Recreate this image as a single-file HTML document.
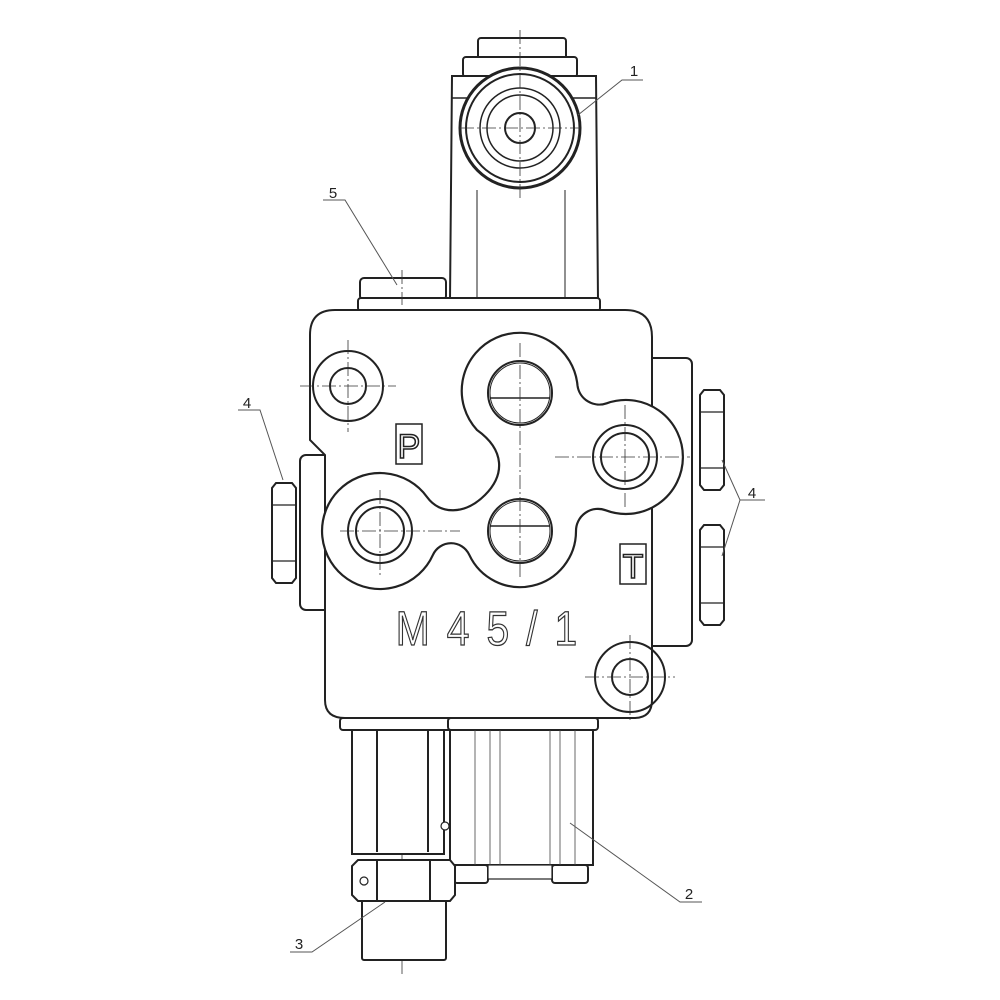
<!DOCTYPE html>
<html><head><style>body{margin:0;background:#fff}svg{display:block}</style></head><body>
<svg width="1000" height="1000" viewBox="0 0 1000 1000" xmlns="http://www.w3.org/2000/svg" font-family="Liberation Sans, sans-serif">
<g fill="#fff" stroke="#222" stroke-width="2">
<rect x="478" y="38" width="88" height="22" rx="3"/>
<rect x="463" y="57" width="114" height="20" rx="3"/>
<path d="M452 76 L596 76 L598 300 L450 300 Z"/>
<line x1="452" y1="98" x2="596" y2="98" stroke-width="1.5"/>
<line x1="477" y1="190" x2="477" y2="298" stroke-width="1"/>
<line x1="565" y1="190" x2="565" y2="298" stroke-width="1"/>
<circle cx="520" cy="128" r="60" stroke-width="3"/>
<circle cx="520" cy="128" r="54"/>
<circle cx="520" cy="128" r="40" stroke-width="1.5"/>
<circle cx="520" cy="128" r="33" stroke-width="1.5"/>
<circle cx="520" cy="128" r="15"/>
<rect x="360" y="278" width="86" height="22" rx="4"/>
<rect x="358" y="298" width="242" height="13" rx="3"/>
<rect x="300" y="455" width="30" height="155" rx="6"/>
<rect x="640" y="358" width="52" height="288" rx="6"/>
<path d="M335 310 L625 310 Q652 310 652 337 L652 700 Q652 718 634 718 L345 718 Q325 718 325 700 L325 455 L310 440 L310 335 Q310 310 335 310 Z"/>
<path stroke-width="2.2" d="M477 430 A58 58 0 1 1 577.5 385.5 A22 22 0 0 0 606.7 403.3 A57 57 0 1 1 605.8 510.3 A22 22 0 0 0 576 531 A56 56 0 0 1 469.2 554.7 A20 20 0 0 0 432.9 554.9 A58 58 0 1 1 427 497 C440 515 465 515 485 495 C505 475 505 450 477 430 Z"/>
</g>
<g fill="none" stroke="#222" stroke-width="2">
<circle cx="520" cy="393" r="32"/><circle cx="520" cy="393" r="30" stroke-width="1"/>
<line x1="490" y1="398" x2="550" y2="398" stroke-width="1.5"/>
<circle cx="520" cy="531" r="32"/><circle cx="520" cy="531" r="30" stroke-width="1"/>
<line x1="490" y1="526" x2="550" y2="526" stroke-width="1.5"/>
<circle cx="625" cy="457" r="32"/><circle cx="625" cy="457" r="24"/>
<circle cx="380" cy="531" r="32"/><circle cx="380" cy="531" r="24"/>
<circle cx="348" cy="386" r="35"/><circle cx="348" cy="386" r="18"/>
<circle cx="630" cy="677" r="35"/><circle cx="630" cy="677" r="18"/>
</g>
<g stroke="#333" stroke-width="0.8" stroke-dasharray="14 3 2 3" fill="none">
<line x1="520" y1="30" x2="520" y2="200"/><line x1="460" y1="128" x2="580" y2="128"/>
<line x1="300" y1="386" x2="396" y2="386"/><line x1="348" y1="340" x2="348" y2="432"/>
<line x1="555" y1="457" x2="690" y2="457"/><line x1="625" y1="405" x2="625" y2="510"/>
<line x1="340" y1="531" x2="460" y2="531"/><line x1="380" y1="490" x2="380" y2="575"/>
<line x1="520" y1="343" x2="520" y2="580"/>
<line x1="585" y1="677" x2="675" y2="677"/><line x1="630" y1="635" x2="630" y2="720"/>
<line x1="402" y1="718" x2="402" y2="975"/><line x1="402" y1="270" x2="402" y2="305"/>
</g>
<g fill="#fff" stroke="#222" stroke-width="1.5">
<rect x="396" y="424" width="26" height="40"/>
<rect x="620" y="544" width="26" height="40"/>
</g>
<text x="409" y="458" font-size="34" text-anchor="middle" fill="#fff" stroke="#222" stroke-width="1.5">P</text>
<text x="633" y="578" font-size="34" text-anchor="middle" fill="#fff" stroke="#222" stroke-width="1.5">T</text>
<text x="495" y="645" font-size="48" text-anchor="middle" letter-spacing="20" fill="#fff" stroke="#333" stroke-width="1.3" transform="translate(495 0) scale(0.85 1) translate(-495 0)">M45/1</text>
<g fill="#fff" stroke="#222" stroke-width="2">
<path d="M276 483 L292 483 L296 488 L296 578 L292 583 L276 583 L272 578 L272 488 Z"/>
<line x1="272" y1="505" x2="296" y2="505" stroke-width="1.2"/><line x1="272" y1="561" x2="296" y2="561" stroke-width="1.2"/>
<path d="M704 390 L720 390 L724 395 L724 485 L720 490 L704 490 L700 485 L700 395 Z"/>
<line x1="700" y1="412" x2="724" y2="412" stroke-width="1.2"/><line x1="700" y1="468" x2="724" y2="468" stroke-width="1.2"/>
<path d="M704 525 L720 525 L724 530 L724 620 L720 625 L704 625 L700 620 L700 530 Z"/>
<line x1="700" y1="547" x2="724" y2="547" stroke-width="1.2"/><line x1="700" y1="603" x2="724" y2="603" stroke-width="1.2"/>
<rect x="340" y="718" width="112" height="12" rx="3"/>
<rect x="448" y="718" width="150" height="12" rx="3"/>
<rect x="352" y="730" width="92" height="124"/>
<line x1="377" y1="730" x2="377" y2="852"/><line x1="428" y1="730" x2="428" y2="852"/>
<circle cx="445" cy="826" r="4" stroke-width="1.2"/>
<rect x="450" y="730" width="143" height="135"/>
<rect x="454" y="865" width="34" height="18" rx="3"/>
<rect x="552" y="865" width="36" height="18" rx="3"/>
<rect x="488" y="865" width="64" height="14" stroke-width="1.2"/>
<rect x="362" y="900" width="84" height="60" rx="2"/>
<path d="M358 860 L450 860 L455 866 L455 895 L450 901 L358 901 L352 895 L352 866 Z"/>
<line x1="377" y1="860" x2="377" y2="901"/><line x1="430" y1="860" x2="430" y2="901"/>
<circle cx="364" cy="881" r="4" stroke-width="1.2"/>
</g>
<g stroke="#444" stroke-width="0.8">
<line x1="475" y1="730" x2="475" y2="865"/><line x1="490" y1="730" x2="490" y2="865"/><line x1="500" y1="730" x2="500" y2="865"/>
<line x1="550" y1="730" x2="550" y2="865"/><line x1="560" y1="730" x2="560" y2="865"/><line x1="575" y1="730" x2="575" y2="865"/>
</g>
<g stroke="#555" stroke-width="1" fill="none">
<polyline points="578,115 622,80 643,80"/>
<polyline points="323,200 345,200 397,285"/>
<polyline points="238,410 260,410 283,480"/>
<polyline points="722,460 740,500 765,500"/><line x1="722" y1="556" x2="740" y2="500"/>
<polyline points="570,823 680,902 702,902"/>
<polyline points="290,952 312,952 385,902"/>
</g>
<g font-size="15" fill="#222" text-anchor="middle">
<text x="634" y="76">1</text><text x="333" y="198">5</text><text x="247" y="408">4</text>
<text x="752" y="498">4</text><text x="689" y="899">2</text><text x="299" y="949">3</text>
</g>
</svg>
</body></html>
